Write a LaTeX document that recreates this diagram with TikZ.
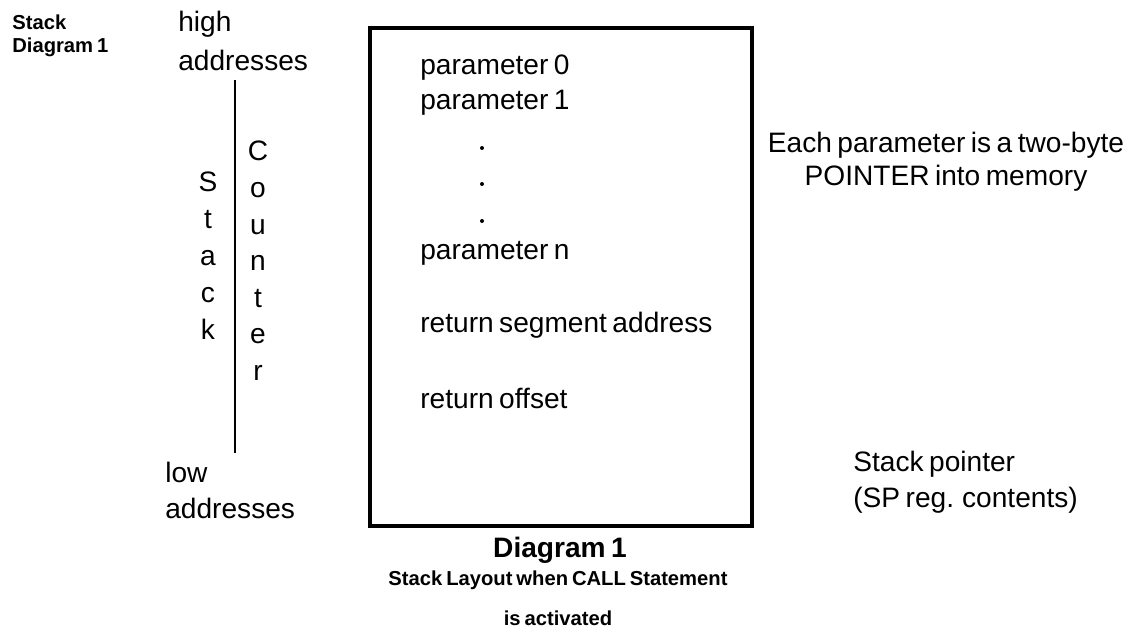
\documentclass[tikz,border=0pt]{standalone}
\usepackage{fontspec}
\setmainfont[WordSpace=0.7]{Liberation Sans}
\begin{document}
\tikzset{
  lbl/.style={font=\fontsize{16}{19}\selectfont, inner sep=0pt},
  captxt/.style={font=\bfseries\fontsize{11.5}{14}\selectfont, inner sep=0pt},
  stackbox/.style={line width=2.2pt},
}
\begin{tikzpicture}[x=0.02cm,y=-0.02cm]
  \useasboundingbox (0,0) rectangle (1146,644);
  % corner title
  \node[captxt, anchor=west] (title1) at (12,22) {Stack};
  \node[captxt, anchor=west] (title2) at (12,47) {Diagram 1};
  % address ends
  \node[lbl, anchor=west] (high) at (178,24) {high};
  \node[lbl, anchor=west] (highaddr) at (178,60) {addresses};
  \node[lbl, anchor=west] (low) at (165,472) {low};
  \node[lbl, anchor=west] (lowaddr) at (165,508) {addresses};
  \coordinate (top) at (235,80);
  \coordinate (bot) at (235,453);
  \draw[line width=1.6pt] (top) -- (bot);
  % vertical words
  \foreach \ch [count=\i] in {S,t,a,c,k}
    \node[lbl, anchor=base] (stk\i) at (208,{192+36.8*(\i-1)}) {\ch};
  \foreach \ch [count=\i] in {C,o,u,n,t,e,r}
    \node[lbl, anchor=base] (cnt\i) at (258,{161+36.6*(\i-1)}) {\ch};
  % the stack
  \draw[stackbox] (370,28) rectangle (752,526);
  \node[lbl, anchor=west] (par0) at (420,68) {parameter 0};
  \node[lbl, anchor=west] (par1) at (420,103) {parameter 1};
  \foreach \y in {148,184,221}
    \fill (482,\y) circle (2);
  \node[lbl, anchor=west] (parn) at (420,253) {parameter n};
  \node[lbl, anchor=west] (retseg) at (420,325) {return segment address};
  \node[lbl, anchor=west] (retoff) at (420,398) {return offset};
  % notes on the right
  \node[lbl, align=center] (note) at (946,162) {Each parameter is a two-byte\\POINTER into memory};
  \node[lbl, anchor=west] (sp1) at (853,464) {Stack pointer};
  \node[lbl, anchor=west] (sp2) at (853,500) {(SP reg. contents)};
  % caption
  \node[lbl, font=\bfseries\fontsize{16}{19}\selectfont] (diag) at (560,550) {Diagram 1};
  \node[captxt] (cap1) at (558,580) {Stack Layout when CALL Statement};
  \node[captxt] (cap2) at (558,618) {is activated};
\end{tikzpicture}
\end{document}
